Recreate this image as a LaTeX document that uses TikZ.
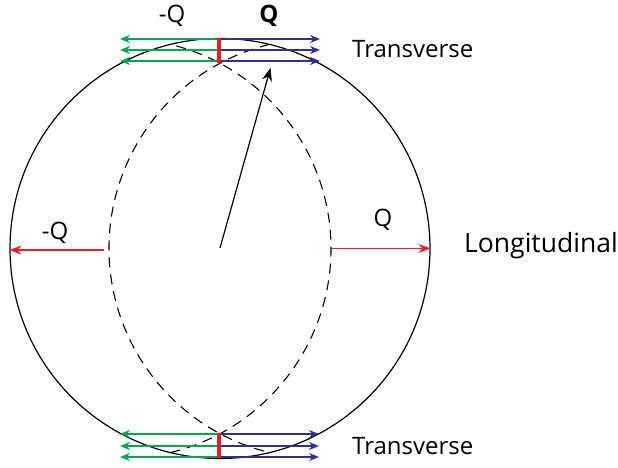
\documentclass[tikz,border=0pt]{standalone}
\usepackage{fontspec}
\setmainfont{Open Sans}
\usetikzlibrary{arrows.meta}
\definecolor{qgreen}{RGB}{0,166,81}
\definecolor{qblue}{RGB}{46,49,146}
\definecolor{qred}{RGB}{237,28,36}
\tikzset{
  lab/.style={font=\fontsize{24}{28}\selectfont, inner sep=0pt},
  biglab/.style={font=\fontsize{26.5}{30}\selectfont, inner sep=0pt},
  garrow/.style={draw=qgreen, line width=1.6pt, -{Stealth[length=10pt,width=8pt]}},
  barrow/.style={draw=qblue, line width=1.6pt, -{Stealth[length=10pt,width=8pt]}},
  rarrow/.style={draw=qred, line width=1.2pt, -{Stealth[length=12pt,width=9pt]}},
  redbar/.style={draw=qred, line width=3.2pt},
  lens/.style={draw=black, line width=1.1pt, dash pattern=on 10pt off 7pt},
}
\begin{document}
\begin{tikzpicture}[x=1pt,y=1pt]
\useasboundingbox (0,0) rectangle (618,468);
% big circle
\coordinate (C) at (220,219.5);
\draw[line width=1.2pt] (C) circle (210);
% dashed lens arcs (shifted circles)
\coordinate (CL) at (121,219.5);
\coordinate (CR) at (319,219.5);
\draw[lens] ([shift={(-76.4:210)}]CL) arc (-76.4:76.4:210);
\draw[lens] ([shift={(103.6:210)}]CR) arc (103.6:256.4:210);
% top transverse arrows
\coordinate (ta1) at (218,429); \coordinate (tg1) at (120,429);
\coordinate (ta2) at (218,418); \coordinate (tg2) at (120,418);
\coordinate (ta3) at (218,407); \coordinate (tg3) at (120,407);
\coordinate (tb1) at (221,429); \coordinate (tq1) at (320,429);
\coordinate (tb2) at (221,418); \coordinate (tq2) at (320,418);
\coordinate (tb3) at (221,407); \coordinate (tq3) at (320,407);
\draw[garrow] (ta1) -- (tg1);
\draw[garrow] (ta2) -- (tg2);
\draw[garrow] (ta3) -- (tg3);
\draw[barrow] (tb1) -- (tq1);
\draw[barrow] (tb2) -- (tq2);
\draw[barrow] (tb3) -- (tq3);
\coordinate (trt) at (219,429.5); \coordinate (trb) at (219,405);
\draw[redbar] (trt) -- (trb);
% bottom transverse arrows
\coordinate (ba1) at (218,34); \coordinate (bg1) at (120,34);
\coordinate (ba2) at (218,22); \coordinate (bg2) at (120,22);
\coordinate (ba3) at (218,11); \coordinate (bg3) at (120,11);
\coordinate (bb1) at (221,34); \coordinate (bq1) at (319,34);
\coordinate (bb2) at (221,22); \coordinate (bq2) at (319,22);
\coordinate (bb3) at (221,11); \coordinate (bq3) at (319,11);
\draw[garrow] (ba1) -- (bg1);
\draw[garrow] (ba2) -- (bg2);
\draw[garrow] (ba3) -- (bg3);
\draw[barrow] (bb1) -- (bq1);
\draw[barrow] (bb2) -- (bq2);
\draw[barrow] (bb3) -- (bq3);
\coordinate (brt) at (219,34.5); \coordinate (brb) at (219,10);
\draw[redbar] (brt) -- (brb);
% longitudinal arrows
\coordinate (ls) at (104,218); \coordinate (le) at (9.5,218);
\coordinate (rs) at (331,219.5); \coordinate (re) at (430.5,219.5);
\draw[rarrow] (ls) -- (le);
\draw[rarrow] (rs) -- (re);
% central arrow
\coordinate (o) at (220,220);
\coordinate (k) at (270.5,400);
\draw[line width=1.2pt, -{Stealth[length=13pt,width=10pt]}] (o) -- (k);
% labels
\node[lab] (mqt) at (172,452) {-Q};
\node[lab] (qt) at (269,452) {\textbf{Q}};
\node[lab] (mql) at (55,235) {-Q};
\node[lab] (qr) at (383,248) {Q};
\node[lab, anchor=base west] (tt) at (352,410) {Transverse};
\node[lab, anchor=base west] (tb) at (352,13) {Transverse};
\node[biglab, anchor=base west] (lg) at (464,215) {Longitudinal};
\end{tikzpicture}
\end{document}
